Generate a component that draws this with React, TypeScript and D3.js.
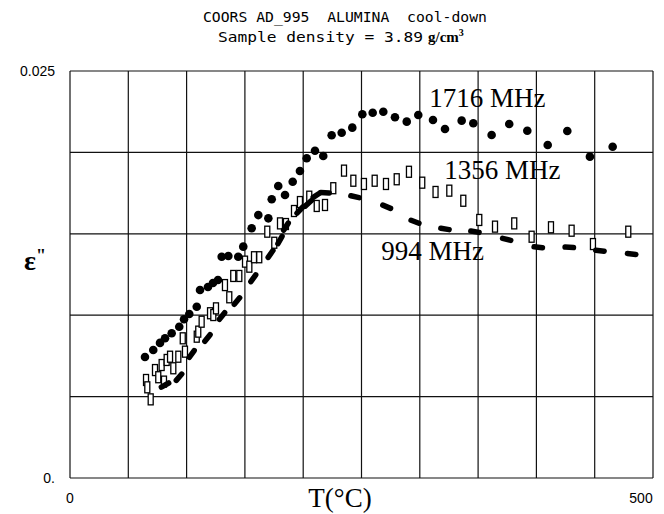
import React from "react";
import * as d3 from "d3";

// 1716 MHz (filled circles): temperature (°C), eps''
const t1716 = [64.3, 71.4, 77.2, 81.5, 87.2, 93.7, 97.8, 102.3, 108.7, 111.5, 118.3, 122.6, 126.9, 130.1, 135.8, 144.3, 148.6, 155.8, 161.5, 170.1, 173.0, 178.6, 184.4, 191.0, 197.2, 203.0, 210.1, 217.2, 224.4, 233.0, 242.1, 250.7, 259.6, 268.7, 278.7, 288.8, 298.7, 311.3, 321.6, 335.9, 345.9, 361.6, 376.7, 392.2, 409.7, 426.5, 445.9, 465.4];
const e1716 = [0.00743, 0.00786, 0.0083, 0.00858, 0.00889, 0.00929, 0.00975, 0.01007, 0.01052, 0.01155, 0.01173, 0.01198, 0.01216, 0.01359, 0.01364, 0.01359, 0.01421, 0.01534, 0.01615, 0.01595, 0.01712, 0.01794, 0.01738, 0.0182, 0.01886, 0.01964, 0.0201, 0.01978, 0.02105, 0.02121, 0.02152, 0.02234, 0.02244, 0.0225, 0.02216, 0.02189, 0.0223, 0.02199, 0.02144, 0.02195, 0.02179, 0.02107, 0.02174, 0.02133, 0.02045, 0.02131, 0.01974, 0.02035];

// 1356 MHz (open rectangles)
const t1356 = [65.2, 66.3, 69.2, 72.9, 75.7, 78.6, 80.6, 82.9, 85.8, 88.6, 92.9, 96.7, 98.6, 108.7, 110.0, 112.9, 120.1, 122.9, 125.2, 132.9, 136.6, 140.0, 145.2, 150.1, 153.8, 157.8, 162.3, 169.2, 175.2, 180.1, 185.2, 192.1, 197.2, 205.2, 211.6, 218.7, 225.8, 235.0, 243.0, 252.1, 261.3, 271.0, 280.2, 290.7, 302.1, 313.5, 325.3, 337.3, 351.0, 364.5, 381.0, 395.9, 412.5, 430.2, 448.5, 478.8];
const e1356 = [0.00602, 0.00557, 0.00483, 0.00663, 0.00619, 0.00694, 0.00592, 0.00725, 0.00745, 0.00674, 0.00745, 0.00858, 0.00776, 0.00868, 0.00899, 0.0096, 0.01012, 0.01001, 0.01042, 0.01185, 0.0111, 0.01241, 0.01241, 0.01329, 0.01298, 0.01356, 0.01356, 0.01513, 0.01445, 0.01564, 0.0156, 0.0164, 0.01695, 0.01728, 0.01671, 0.01677, 0.0178, 0.01888, 0.01826, 0.01806, 0.01826, 0.01806, 0.01835, 0.01881, 0.01814, 0.01757, 0.01765, 0.01703, 0.01585, 0.01544, 0.01564, 0.01482, 0.0154, 0.01519, 0.01437, 0.01513];

// 994 MHz (thick dashes)
const t994 = [81.5, 93.5, 104.4, 117.9, 130.4, 143.2, 157.2, 172.0, 180.1, 185.2, 197.2, 204.4, 211.6, 218.7, 244.4, 271.6, 295.9, 321.6, 347.3, 374.5, 401.6, 428.2, 454.5, 481.7];
const e994 = [0.00571, 0.00619, 0.00762, 0.0086, 0.00995, 0.01087, 0.01227, 0.01376, 0.01462, 0.01544, 0.01646, 0.01687, 0.01738, 0.01752, 0.01728, 0.01666, 0.01574, 0.0153, 0.01513, 0.01466, 0.01417, 0.01417, 0.01396, 0.01376];

const xGrid = d3.range(0, 501, 50);
const yGrid = [0, 0.005, 0.01, 0.015, 0.02, 0.025];
const xTickLabels = [{ v: 0, s: "0" }, { v: 500, s: "500" }];
const yTickLabels = [{ v: 0.025, s: "0.025" }, { v: 0, s: "0." }];
const seriesLabels = [
  { s: "1716 MHz", t: 308, e: 0.02278 },
  { s: "1356 MHz", t: 321, e: 0.01835 },
  { s: "994 MHz", t: 267, e: 0.0134 },
];

export default function App() {
  const x = d3.scaleLinear().domain([0, 500]).range([70, 653]);
  const y = d3.scaleLinear().domain([0, 0.025]).range([478, 71]);
  const mono = "'DejaVu Sans Mono', 'Liberation Mono', monospace";
  const serif = "'Liberation Serif', 'DejaVu Serif', serif";
  const sans = "'Liberation Sans', Arial, sans-serif";

  const dashPts = t994.map((t, i) => [x(t), y(e994[i])]);
  const dashes = dashPts.map((p, i) => {
    const a = dashPts[Math.max(0, i - 1)];
    const b = dashPts[Math.min(dashPts.length - 1, i + 1)];
    const ang = Math.atan2(b[1] - a[1], b[0] - a[0]);
    const L = 4.2;
    return { x1: p[0] - L * Math.cos(ang), y1: p[1] - L * Math.sin(ang), x2: p[0] + L * Math.cos(ang), y2: p[1] + L * Math.sin(ang) };
  });

  return (
    <svg width={664} height={514} style={{ position: "absolute", left: 0, top: 0, background: "#fff" }}>
      <rect x={0} y={0} width={664} height={514} fill="#fff" />
      <text x={203} y={21.5} fontFamily={mono} fontSize={13.5} textLength={284} lengthAdjust="spacingAndGlyphs" style={{ whiteSpace: "pre" }} xmlSpace="preserve">COORS AD_995  ALUMINA  cool-down</text>
      <text x={218} y={41.5} fontFamily={mono} fontSize={13.5} textLength={205} lengthAdjust="spacingAndGlyphs" style={{ whiteSpace: "pre" }} xmlSpace="preserve">Sample density = 3.89</text>
      <text x={428} y={41.5} fontFamily={serif} fontSize={15} fontWeight="bold">g/cm<tspan dy={-6} fontSize={10}>3</tspan></text>

      {xGrid.map((v) => (
        <line key={"gx" + v} x1={x(v)} x2={x(v)} y1={y(0)} y2={y(0.025)} stroke="#111" strokeWidth={1.2} />
      ))}
      {yGrid.map((v) => (
        <line key={"gy" + v} x1={x(0)} x2={x(500)} y1={y(v)} y2={y(v)} stroke="#111" strokeWidth={1.2} />
      ))}

      {yTickLabels.map((d) => (
        <text key={"yl" + d.s} x={55} y={y(d.v) + 5} textAnchor="end" fontFamily={sans} fontSize={14}>{d.s}</text>
      ))}
      {xTickLabels.map((d) => (
        <text key={"xl" + d.s} x={x(d.v) - (d.v === 500 ? 12 : 0)} y={503} textAnchor="middle" fontFamily={sans} fontSize={14}>{d.s}</text>
      ))}
      <text x={340} y={507} textAnchor="middle" fontFamily={serif} fontSize={27}>T(°C)</text>
      <text x={24} y={270} fontFamily={serif} fontSize={28} fontWeight="bold">ε<tspan fontSize={18} dy={-8}>"</tspan></text>

      {t1356.map((t, i) => (
        <rect key={"r" + i} x={x(t) - 2.5} y={y(e1356[i]) - 5.5} width={5} height={11} fill="#fff" stroke="#000" strokeWidth={1.3} />
      ))}
      {dashes.map((d, i) => (
        <line key={"d" + i} x1={d.x1} y1={d.y1} x2={d.x2} y2={d.y2} stroke="#000" strokeWidth={5.5} strokeLinecap="round" />
      ))}
      {t1716.map((t, i) => (
        <circle key={"c" + i} cx={x(t)} cy={y(e1716[i])} r={4.3} fill="#000" />
      ))}

      {seriesLabels.map((d) => (
        <text key={d.s} x={x(d.t)} y={y(d.e)} fontFamily={serif} fontSize={27} fill="#000">{d.s}</text>
      ))}
    </svg>
  );
}
